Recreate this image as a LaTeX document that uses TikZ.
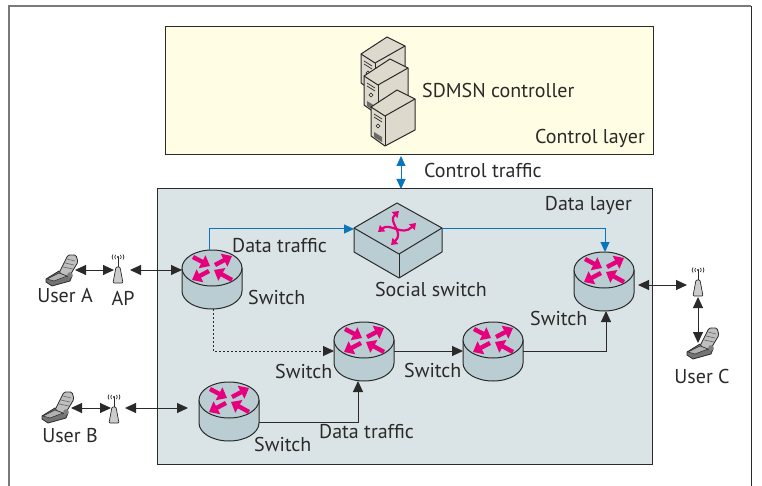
\documentclass[tikz,border=0pt]{standalone}
\usepackage{fontspec}
\setmainfont{PT Sans}
\usetikzlibrary{arrows.meta}
\definecolor{yel}{HTML}{FFFDE3}
\definecolor{dat}{HTML}{DAE4E7}
\definecolor{rout}{HTML}{B9CDD3}
\definecolor{pnk}{HTML}{E6007E}
\definecolor{blu}{HTML}{0A75BC}
\definecolor{srv}{HTML}{DDD9CC}
\definecolor{ink}{HTML}{2B2A29}
\definecolor{frm}{HTML}{58595B}
\tikzset{
  conn/.style={draw=ink,line width=1pt,-{Triangle[width=10pt,length=11pt]}},
  biconn/.style={draw=ink,line width=1pt,{Triangle[width=10pt,length=11pt]}-{Triangle[width=10pt,length=11pt]}},
  blueconn/.style={draw=blu,line width=1pt,-{Triangle[width=9pt,length=10pt]}},
  lab/.style={font=\fontsize{20}{24}\selectfont,text=ink,inner sep=0pt},
  rarrow/.style={draw=pnk,line width=4.4pt,-{Triangle[width=14pt,length=9pt]}},
  sarrow/.style={draw=pnk,line width=2.2pt,{Triangle[width=8pt,length=6pt]}-{Triangle[width=8pt,length=6pt]}},
  edge/.style={draw=ink,line width=1pt,line join=round},
  router/.pic={
    \coordinate (-top) at (0,-18);
    \coordinate (-bot) at (0,41);
    \coordinate (-west) at (-30,0);
    \coordinate (-east) at (30,0);
    \path[edge,fill=rout] (-30,0) -- (-30,23) arc[start angle=180,end angle=360,x radius=30pt,y radius=18pt] -- (30,0) -- cycle;
    \path[edge,fill=rout] (0,0) ellipse[x radius=30pt,y radius=18pt];
    \draw[rarrow] (-19,-11) -- (-2,-2);
    \draw[rarrow] (3,-3) -- (20,-12);
    \draw[rarrow] (-3,3) -- (-20,12);
    \draw[rarrow] (20,12) -- (2,2);
  },
  server/.pic={
    \path[edge,fill=srv] (0,0) -- (18,9) -- (18,40) -- (-12,56) -- (-26,46) -- (-26,17) -- cycle;
    \path[edge] (-26,17) -- (-12,26) -- (18,9);
    \path[edge] (-12,26) -- (-12,56);
    \draw[ink,line width=0.7pt] (-23,24) -- (-15,29) (-23,27) -- (-15,32);
    \draw[ink,line width=0.7pt,fill=white] (-19,36) circle[radius=1.8pt];
    \fill[ink!70] (-23,42) -- (-15,47) -- (-15,52) -- (-23,47) -- cycle;
  },
  phone/.pic={
    \coordinate (-port) at (0,0);
    \path[draw=ink,line width=0.8pt,fill=black!55] (-16,9) -- (-3,1) -- (10,6) -- (8,11) -- (-10,16) -- (-16,12) -- cycle;
    \path[draw=ink,line width=0.8pt,fill=black!25,rounded corners=1.5pt] (-3,3) -- (6,-15) -- (14,-15) -- (16,-8) -- (7,7) -- cycle;
    \draw[black!60,line width=0.6pt] (1,-3) -- (11,-1) (3,-7) -- (12,-5) (5,-11) -- (13,-9);
    \fill[black!50] (8,5) circle[radius=2.8pt];
    \path[draw=ink,line width=0.5pt,fill=black!30] (-15,9) -- (-3,3) -- (5,6) -- (-8,11) -- cycle;
  },
  apoint/.pic={
    \coordinate (-top) at (0,0);
    \draw[ink,line width=0.8pt] (0,-1) -- (0,11);
    \path[draw=ink,line width=0.7pt,fill=black!20,rounded corners=1pt] (-2,9) -- (2,9) -- (5,25) -- (-5,25) -- cycle;
    \fill[ink] (0,-1) circle[radius=1.2pt];
    \draw[ink,line width=0.7pt] (-2.5,-3) to[bend right=40] (-2.5,1) (2.5,-3) to[bend left=40] (2.5,1);
    \draw[ink,line width=0.7pt] (-5,-3.5) to[bend right=40] (-5,1.5) (5,-3.5) to[bend left=40] (5,1.5);
  }
}
\begin{document}
\begin{tikzpicture}[x=1pt,y=-1pt]
\useasboundingbox (0,0) rectangle (762,486);
\fill[white] (0,0) rectangle (762,486);
\draw[frm!80,line width=1.6pt] (9,488) -- (9,6) -- (751,6);
\draw[ink,line width=1pt] (751,6) -- (751,488);
\path[fill=yel,draw=ink,line width=1pt] (165,27) rectangle (653,155);
\path[fill=dat,draw=ink,line width=1pt] (157,189) rectangle (652,464);
\pic at (387,37) {server};
\pic at (390,59) {server};
\pic at (397,90) {server};
\node[lab,anchor=west] (ctrl) at (422,91) {SDMSN controller};
\node[lab,anchor=east] (ctrllay) at (645,138) {Control layer};
\node[lab,anchor=west] (ctrltr) at (424,171) {Control traffic};
\node[lab,anchor=east] (datalay) at (632,205) {Data layer};
% social switch
\path[edge,fill=rout] (397,203) -- (442,228) -- (442,252) -- (399,278) -- (354,252) -- (354,228) -- cycle;
\path[edge] (354,228) -- (399,254) -- (442,228);
\path[edge] (399,254) -- (399,278);
\coordinate (ssw) at (354,229);
\coordinate (sse) at (442,229);
\draw[sarrow] (399,211) .. controls (387,222) and (405,232) .. (391,245);
\draw[sarrow] (378,232) .. controls (390,222) and (402,237) .. (416,223);
% routers
\pic (r1) at (212,268) {router};
\pic (r2) at (604,270) {router};
\pic (r3) at (364,340) {router};
\pic (r4) at (493,340) {router};
\pic (r5) at (229,400) {router};
% users
\pic (pa) at (62,270) {phone};
\pic (pb) at (58,407) {phone};
\pic (pc) at (703,343) {phone};
\pic (aa) at (118,258) {apoint};
\pic (ab) at (114,398) {apoint};
\pic (ac) at (698,271) {apoint};
% connectors
\draw[biconn] ([xshift=13]pa-port) -- ([xshift=-4,yshift=-12]aa-top);
\draw[biconn] ([xshift=12,yshift=-12]aa-top) -- ([yshift=-2]r1-west);
\draw[biconn] ([xshift=13,yshift=-1]pb-port) -- ([xshift=-3,yshift=-10]ab-top);
\coordinate (r5in) at (188,408);
\draw[biconn] ([xshift=11,yshift=-10]ab-top) -- (r5in);
\coordinate (r2out) at (638,285);
\draw[biconn] (r2out) -- ([xshift=-11,yshift=-14]ac-top);
\draw[biconn] ([yshift=-26]ac-top) -- ([xshift=-5]pc-port);
\coordinate (cta) at (401,156);
\coordinate (ctb) at (401,189);
\draw[blu,line width=1pt,{Triangle[width=9pt,length=10pt]}-{Triangle[width=9pt,length=10pt]}] (cta) -- (ctb);
\draw[blueconn] ([xshift=-3]r1-top) |- (ssw);
\draw[blueconn] (sse) -| ([xshift=1]r2-top);
\draw[conn,dash pattern=on 2pt off 2pt] ([xshift=1]r1-bot) |- ([yshift=-11]r3-west);
\draw[conn] ([yshift=-11]r3-east) -- ([yshift=-11]r4-west);
\draw[conn] ([yshift=-11]r4-east) -| ([xshift=2]r2-bot);
\draw[conn] ([yshift=-22]r5-east) -| ([xshift=-6]r3-bot);
% labels
\node[lab] (ua) at (65,296) {User A};
\node[lab] (ap) at (123,298) {AP};
\node[lab] (ub) at (70,436) {User B};
\node[lab] (uc) at (702,376) {User C};
\node[lab,anchor=west] (dt1) at (232,246) {Data traffic};
\node[lab,anchor=west] (s1) at (248,297) {Switch};
\node[lab] (soc) at (431,289) {Social switch};
\node[lab,anchor=west] (s2) at (275,371) {Switch};
\node[lab,anchor=west] (s3) at (404,370) {Switch};
\node[lab,anchor=west] (s4) at (530,318) {Switch};
\node[lab,anchor=west] (s5) at (254,444) {Switch};
\node[lab,anchor=west] (dt2) at (319,432) {Data traffic};
\end{tikzpicture}
\end{document}
